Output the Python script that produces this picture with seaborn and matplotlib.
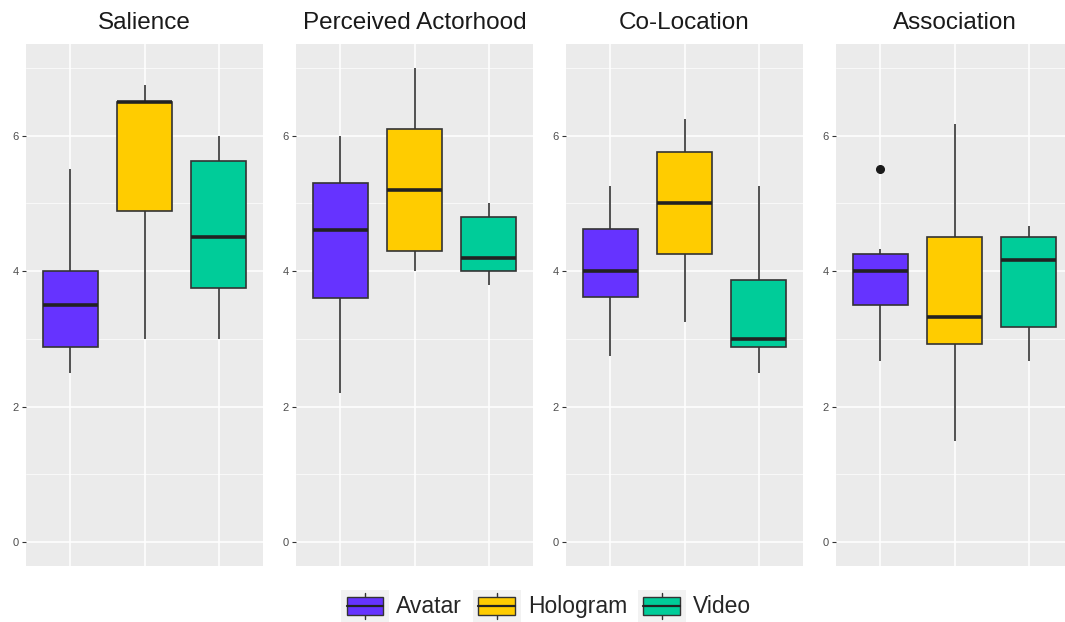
import matplotlib
matplotlib.use("Agg")
import matplotlib.pyplot as plt
from matplotlib.patches import Rectangle
from matplotlib.lines import Line2D
from matplotlib.legend_handler import HandlerBase
from matplotlib.ticker import MultipleLocator
import seaborn as sns
import pandas as pd

# ---------------- data ----------------
panels = ["Salience", "Perceived Actorhood", "Co-Location", "Association"]
conditions = ["Avatar", "Hologram", "Video"]
colors = ["#6633FF", "#FFCC00", "#00CC99"]

salience_avatar = [2.5, 2.88, 3.5, 4.0, 5.5]
salience_hologram = [3.0, 4.88, 6.5, 6.5, 6.75]
salience_video = [3.0, 3.75, 4.5, 5.62, 6.0]

actorhood_avatar = [2.2, 3.6, 4.6, 5.3, 6.0]
actorhood_hologram = [4.0, 4.3, 5.2, 6.1, 7.0]
actorhood_video = [3.8, 4.0, 4.2, 4.8, 5.0]

colocation_avatar = [2.75, 3.625, 4.0, 4.625, 5.25]
colocation_hologram = [3.25, 4.25, 5.0, 5.75, 6.25]
colocation_video = [2.5, 2.875, 3.0, 3.875, 5.25]

association_avatar = [2.67, 3.0, 3.5, 3.83, 4.0, 4.17, 4.25, 4.33, 5.5]
association_hologram = [1.5, 2.92, 3.33, 4.5, 6.17]
association_video = [2.67, 3.17, 4.17, 4.5, 4.67]

y_ticks = [0, 2, 4, 6]

values = {
    "Salience": [salience_avatar, salience_hologram, salience_video],
    "Perceived Actorhood": [actorhood_avatar, actorhood_hologram, actorhood_video],
    "Co-Location": [colocation_avatar, colocation_hologram, colocation_video],
    "Association": [association_avatar, association_hologram, association_video],
}

rows = []
for p in panels:
    for c, vals in zip(conditions, values[p]):
        for v in vals:
            rows.append({"panel": p, "condition": c, "score": v})
df = pd.DataFrame(rows)

# ---------------- figure ----------------
sns.set_theme(style="white")
plt.rcParams["font.family"] = ["Liberation Sans", "DejaVu Sans"]

W, H = 1065, 622
fig = plt.figure(figsize=(W / 100, H / 100), dpi=100)

panel_left = [26, 296, 566, 836]
panel_w = 237
panel_top, panel_bot = 44, 566

palette = dict(zip(conditions, colors))

for p, lx in zip(panels, panel_left):
    ax = fig.add_axes([lx / W, 1 - panel_bot / H, panel_w / W, (panel_bot - panel_top) / H])
    ax.set_facecolor("#EBEBEB")
    sub = df[df["panel"] == p]
    sns.boxplot(
        data=sub, x="condition", y="score", hue="condition",
        order=conditions, hue_order=conditions, palette=palette, saturation=1,
        width=0.75, linewidth=1.2, linecolor="#333333", showcaps=False,
        medianprops={"linewidth": 2.6, "color": "#222222"},
        flierprops={"marker": "o", "markersize": 5.5, "markerfacecolor": "#1a1a1a",
                    "markeredgecolor": "#1a1a1a"},
        legend=False, ax=ax, zorder=3,
    )
    ax.set_xlim(-0.6, 2.6)
    ax.set_ylim(-0.35, 7.35)
    ax.set_yticks(y_ticks)
    ax.set_yticklabels([str(t) for t in y_ticks])
    ax.yaxis.set_minor_locator(MultipleLocator(1))
    ax.grid(True, which="major", color="white", linewidth=1.1, zorder=0)
    ax.grid(True, which="minor", axis="y", color="white", linewidth=0.5, zorder=0)
    ax.set_axisbelow(True)
    for s in ax.spines.values():
        s.set_visible(False)
    ax.tick_params(axis="x", which="both", length=0, labelbottom=False)
    ax.tick_params(axis="y", which="major", length=3, width=0.8, color="#333333",
                   labelsize=8, labelcolor="#4D4D4D", pad=2, left=True)
    ax.tick_params(axis="y", which="minor", length=0)
    ax.set_xlabel("")
    ax.set_ylabel("")
    ax.set_title(p, fontsize=17.5, color="#1A1A1A", pad=11)


class BoxHandler(HandlerBase):
    def create_artists(self, legend, orig_handle, xdescent, ydescent,
                       width, height, fontsize, trans):
        color = orig_handle.get_facecolor()
        x0, y0 = -xdescent, -ydescent
        bg = Rectangle((x0, y0), width, height, fc="#F2F2F2", ec="none", transform=trans)
        bw, bh = width * 0.76, height * 0.55
        bx, by = x0 + (width - bw) / 2, y0 + (height - bh) / 2
        box = Rectangle((bx, by), bw, bh, fc=color, ec="#333333", lw=1.0, transform=trans)
        cx = x0 + width / 2
        cy = y0 + height / 2
        med = Line2D([bx, bx + bw], [cy, cy], color="#222222", lw=1.6, transform=trans)
        w1 = Line2D([cx, cx], [y0 + height * 0.08, by], color="#333333", lw=1.0, transform=trans)
        w2 = Line2D([cx, cx], [by + bh, y0 + height * 0.92], color="#333333", lw=1.0, transform=trans)
        return [bg, w1, w2, box, med]


handles = [Rectangle((0, 0), 1, 1, fc=c) for c in colors]
fig.legend(handles, conditions, handler_map={Rectangle: BoxHandler()},
           loc="center", bbox_to_anchor=(546 / W, 1 - 606 / H), ncol=3,
           frameon=False, fontsize=16.5, handlelength=2.1, handleheight=1.75,
           handletextpad=0.32, columnspacing=0.45, borderpad=0)

fig.savefig("out.png", dpi=100)
